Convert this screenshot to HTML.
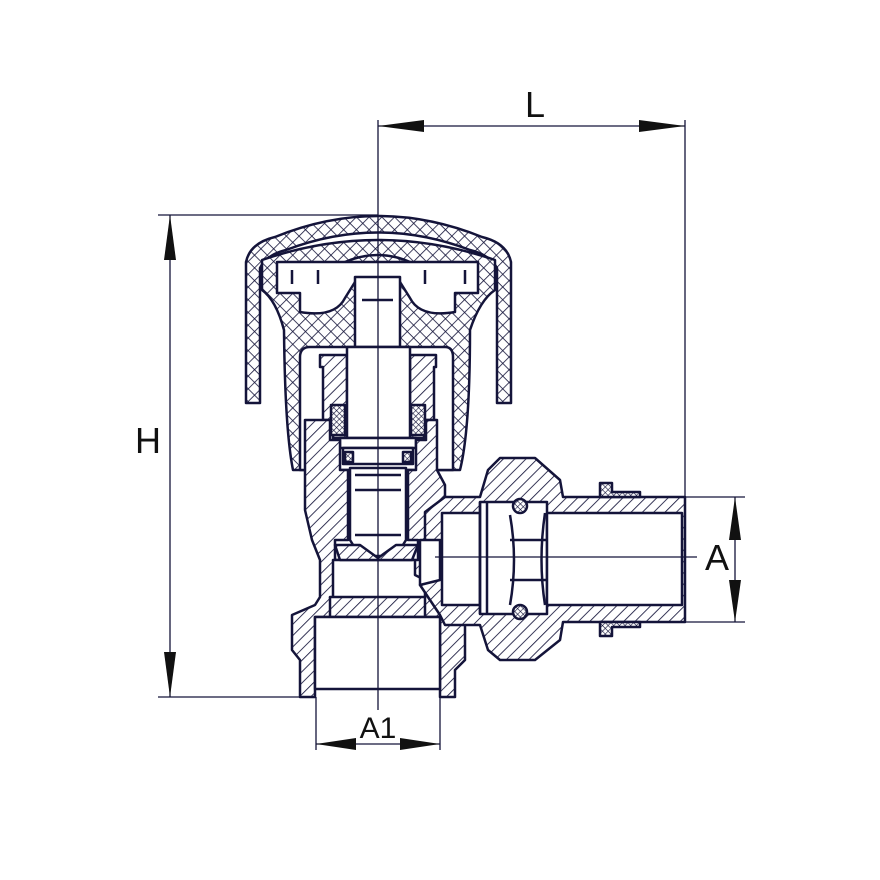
<!DOCTYPE html>
<html><head><meta charset="utf-8"><style>
html,body{margin:0;padding:0;background:#fff;}
svg{display:block;}
text{font-family:"Liberation Sans",sans-serif;fill:#111;}
</style></head><body>
<svg width="880" height="880" viewBox="0 0 880 880" xmlns="http://www.w3.org/2000/svg">
<defs>
<pattern id="h" width="8" height="8" patternUnits="userSpaceOnUse" patternTransform="rotate(45)">
<rect width="8" height="8" fill="#fff"/><line x1="0" y1="0" x2="0" y2="8" stroke="#14143a" stroke-width="1.7"/></pattern>
<pattern id="x" width="9" height="9" patternUnits="userSpaceOnUse" patternTransform="rotate(45)">
<rect width="9" height="9" fill="#fff"/><line x1="0" y1="0" x2="0" y2="9" stroke="#14143a" stroke-width="1.6"/><line x1="0" y1="0" x2="9" y2="0" stroke="#14143a" stroke-width="1.6"/></pattern>
<pattern id="xs" width="4" height="4" patternUnits="userSpaceOnUse" patternTransform="rotate(45)">
<rect width="4" height="4" fill="#fff"/><line x1="0" y1="0" x2="0" y2="4" stroke="#14143a" stroke-width="1.2"/><line x1="0" y1="0" x2="4" y2="0" stroke="#14143a" stroke-width="1.2"/></pattern>
</defs>
<g stroke="#14143a" stroke-width="2.5" fill="none" stroke-linejoin="round">
<path d="M246,403 L246,262 Q250,243 275,237 Q378,195 482,237 Q507,243 511,262 L511,403 L497,403 L497,268 Q490,255 470,250 Q378,215 286,250 Q266,255 260,268 L260,403 Z" fill="url(#x)"/>
<path d="M262,290 L262,260 Q378,220 495,260 L495,290 Q480,300 470,330 Q470,430 460,470 L293,470 Q285,430 284,330 Q276,300 262,290 Z" fill="url(#x)"/>
<path d="M277,262 L478,262 L478,293 L455,293 L455,312 Q420,318 410,298 L400,282 L355,282 L345,298 Q335,318 300,312 L300,293 L277,293 Z" fill="#fff"/>
<path d="M292,270 v14 M318,270 v14 M425,270 v14 M465,270 v14 M345,262 Q378,248 410,262" />
<path d="M300,470 L300,357 Q300,347 310,347 L445,347 Q453,347 453,357 L453,470 Z" fill="#fff"/>
<rect x="355" y="277" width="45" height="70" fill="#fff"/>
<line x1="362" y1="300" x2="393" y2="300"/>
<path d="M320,355 L347,355 L347,438 L333,438 L333,420 L323,420 L323,367 L320,367 Z" fill="url(#h)"/>
<path d="M436,355 L410,355 L410,438 L424,438 L424,420 L434,420 L434,367 L436,367 Z" fill="url(#h)"/>
<rect x="331" y="405" width="14" height="30" fill="url(#xs)"/>
<rect x="411" y="405" width="14" height="30" fill="url(#xs)"/>
<rect x="347" y="347" width="63" height="91" fill="#fff"/>
<rect x="340" y="438" width="76" height="10" fill="#fff"/>
<rect x="343" y="448" width="70" height="16" fill="#fff"/>
<rect x="345" y="452" width="8" height="10" fill="url(#xs)"/>
<rect x="403" y="452" width="8" height="10" fill="url(#xs)"/>
<path d="M305,420 L330,420 L330,440 L340,440 L340,470 L348,470 L348,540 L335,540 L335,560 L418,560 L418,540 L408,540 L408,470 L416,470 L416,440 L426,440 L426,420 L437,420 L437,470 L445,485 L445,500 L440,520 L425,540 L425,575 L420,585 L430,600 L440,600 L440,615 L465,615 L465,660 L455,670 L455,697 L440,697 L440,617 L315,617 L315,697 L300,697 L300,660 L292,650 L292,615 L315,605 L320,597 L320,560 L312,540 L305,510 L305,480 Z" fill="url(#h)"/>
<path d="M330,597 L425,597 L425,580 L415,575 L415,560 L333,560 L333,597 Z" fill="#fff"/>
<rect x="315" y="617" width="125" height="72" fill="#fff"/>
<line x1="330" y1="597" x2="330" y2="617"/><line x1="425" y1="597" x2="425" y2="617"/>
<path d="M350,468 L406,468 L406,540 L396,556 L360,556 L350,540 Z" fill="#fff"/>
<path d="M355,475 h46 M355,490 h46 M355,535 h46" />
<path d="M335,545 L360,545 L378,558 L396,545 L418,545 L412,560 L340,560 Z" fill="url(#h)"/>
<path d="M425,512 L445,497 L480,497 L488,470 L500,458 L535,458 L560,480 L563,497 L685,497 L685,622 L563,622 L560,640 L535,660 L500,660 L488,650 L480,625 L445,625 L440,615 L430,600 L420,585 L425,575 Z" fill="url(#h)"/>
<path d="M420,540 L440,540 L440,580 L420,585 Z" fill="#fff"/>
<rect x="442" y="513" width="38" height="92" fill="#fff"/>
<rect x="480" y="502" width="67" height="112" fill="#fff"/>
<rect x="547" y="513" width="135" height="92" fill="#fff"/>
<path d="M480,502 v112 M487,502 v112 M510,515 Q518,560 510,605 M545,513 Q538,560 545,605 M510,540 h36 M510,580 h36"/>
<circle cx="520" cy="506" r="7" fill="url(#xs)"/>
<circle cx="520" cy="612" r="7" fill="url(#xs)"/>
<path d="M600,483 L612,483 L612,492 L640,492 L640,497 L600,497 Z" fill="url(#xs)"/>
<path d="M600,636 L612,636 L612,627 L640,627 L640,622 L600,622 Z" fill="url(#xs)"/>
</g>
<g stroke="#14143a" stroke-width="1.3" fill="none">
<line x1="378" y1="120" x2="378" y2="710"/>
<line x1="435" y1="557" x2="697" y2="557"/>
<line x1="685" y1="120" x2="685" y2="497"/>
<line x1="378" y1="126" x2="685" y2="126"/>
<line x1="158" y1="215" x2="378" y2="215"/>
<line x1="158" y1="697" x2="300" y2="697"/>
<line x1="170" y1="215" x2="170" y2="697"/>
<line x1="685" y1="497" x2="745" y2="497"/>
<line x1="685" y1="622" x2="745" y2="622"/>
<line x1="735" y1="497" x2="735" y2="622"/>
<line x1="316" y1="697" x2="316" y2="750"/>
<line x1="440" y1="697" x2="440" y2="750"/>
<line x1="316" y1="744" x2="440" y2="744"/>
</g>
<g fill="#111">
<path d="M378,126 L424,120 L424,132 Z"/><path d="M685,126 L639,120 L639,132 Z"/>
<path d="M170,215 L164,260 L176,260 Z"/><path d="M170,697 L164,652 L176,652 Z"/>
<path d="M735,497 L729,540 L741,540 Z"/><path d="M735,622 L729,580 L741,580 Z"/>
<path d="M316,744 L356,738 L356,750 Z"/><path d="M440,744 L400,738 L400,750 Z"/>
</g>
<text x="535" y="117" font-size="36" text-anchor="middle">L</text>
<text x="148" y="453" font-size="36" text-anchor="middle">H</text>
<text x="717" y="570" font-size="36" text-anchor="middle">A</text>
<text x="378" y="738" font-size="30" text-anchor="middle">A1</text>
</svg>
</body></html>
